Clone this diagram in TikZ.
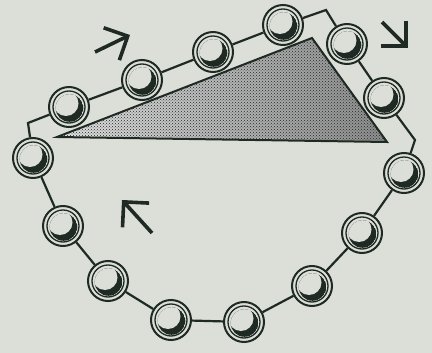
\documentclass[tikz,border=0pt]{standalone}
\usepackage{xcolor}
\usepackage{tikz}
\usetikzlibrary{arrows.meta,patterns}
\definecolor{chainpaper}{HTML}{DCDFD7}
\definecolor{chainink}{HTML}{1F2A24}

\begin{document}
\begin{tikzpicture}[
  x=1pt, y=-1pt,
  ball/.style={circle, draw=chainink, line width=2pt, fill=chainpaper,
               minimum size=40pt, inner sep=0pt,
               path picture={
                 \begin{scope}[shift={(path picture bounding box.center)}]
                   \clip (0.5,1) circle[radius=13.8];
                   \fill[chainink] (0.5,1) circle[radius=13.8];
                   \fill[chainpaper] (-3,-3.5) circle[radius=12.5];
                 \end{scope}
                 \draw[chainink, line width=1.3pt]
                   (path picture bounding box.center) circle[radius=16];
               }},
  link/.style={draw=chainink, line width=2.2pt, line join=miter},
  motion/.style={draw=chainink, line width=3.6pt,
                 -{Straight Barb[length=18pt, width=36pt]}},
  wedge/.style={draw=chainink, line width=2pt, line join=miter}
]
\fill[chainpaper] (0,0) rectangle (432,353);

% stippled block
\coordinate (t1) at (57,137);
\coordinate (t2) at (312,38);
\coordinate (t3) at (387,142);
\shade[left color=black!12, right color=black!45] (t1) -- (t2) -- (t3) -- cycle;
\draw[wedge, pattern=crosshatch dots, pattern color=chainink] (t1) -- (t2) -- (t3) -- cycle;

% balls of the chain
\node[ball] (b1)  at (69,107) {};
\node[ball] (b2)  at (142,80) {};
\node[ball] (b3)  at (213,52) {};
\node[ball] (b4)  at (283,25) {};
\node[ball] (b5)  at (347,44) {};
\node[ball] (b6)  at (384,98) {};
\node[ball] (b7)  at (404,173) {};
\node[ball] (b8)  at (362,233) {};
\node[ball] (b9)  at (312,286) {};
\node[ball] (b10) at (244,322) {};
\node[ball] (b11) at (171,320) {};
\node[ball] (b12) at (108,281) {};
\node[ball] (b13) at (63,226) {};
\node[ball] (b14) at (33,158) {};

\coordinate (c1) at (28,123);
\coordinate (c2) at (326,10);
\coordinate (c3) at (415,140);

\draw[link] (b14) -- (c1) -- (b1);
\draw[link] (b4) -- (c2) -- (b5);
\draw[link] (b6) -- (c3) -- (b7);
\foreach \a/\b in {b1/b2,b2/b3,b3/b4,b5/b6,b7/b8,b8/b9,b9/b10,b10/b11,b11/b12,b12/b13,b13/b14}
  \draw[link] (\a) -- (\b);

% direction of motion
\coordinate (m1s) at (95,52);
\coordinate (m1e) at (130,35);
\coordinate (m2s) at (382,22);
\coordinate (m2e) at (408,48);
\coordinate (m3s) at (152,233);
\coordinate (m3e) at (122,200);
\draw[motion] (m1s) -- (m1e);
\draw[motion] (m2s) -- (m2e);
\draw[motion] (m3s) -- (m3e);
\end{tikzpicture}
\end{document}
